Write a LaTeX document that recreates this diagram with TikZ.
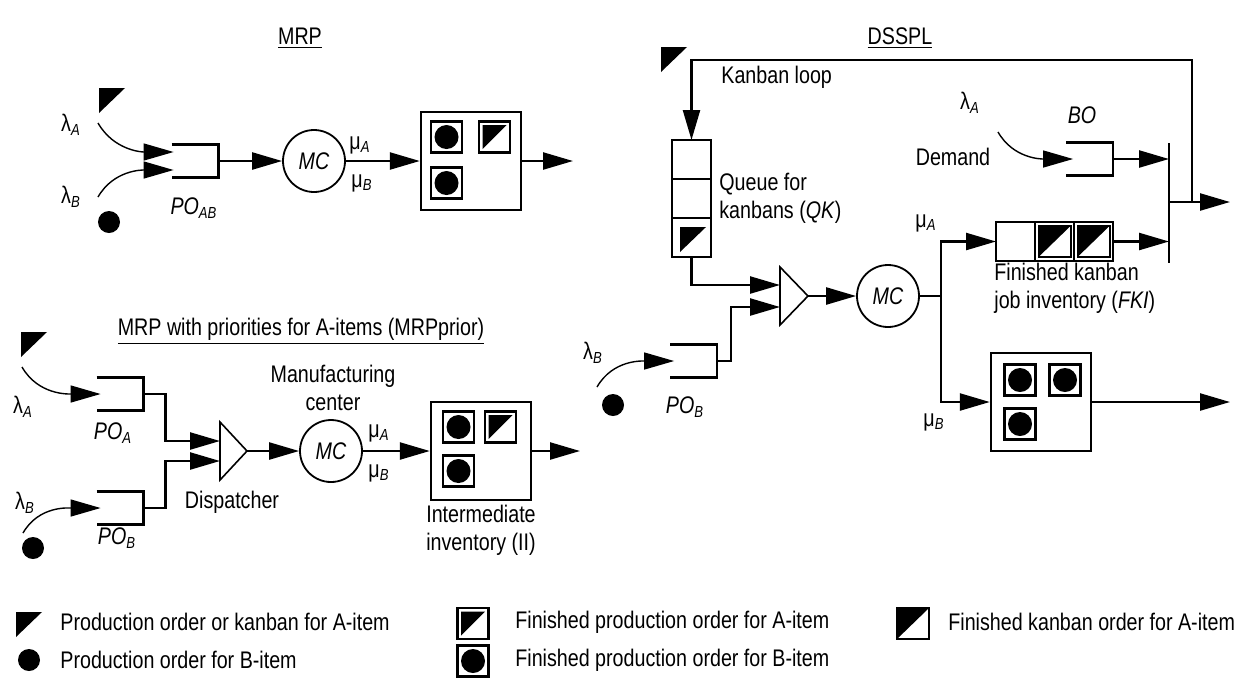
\documentclass[tikz,border=0pt]{standalone}
\usepackage{fontspec}
\setmainfont{Liberation Sans}[FakeStretch=0.82]
\usetikzlibrary{positioning}
\usetikzlibrary{arrows.meta}

% open queue: three walls, open on the left
\newcommand{\qwall}[1]{\draw[wall] (#1.north west) -- (#1.north east) -- (#1.south east) -- (#1.south west);}

\begin{document}
\begin{tikzpicture}[
    x=0.5pt, y=-0.5pt,
    inner sep=0pt,
    font=\fontsize{12}{14}\selectfont,
    wall/.style={line width=1.2pt},
    flow/.style={-{Triangle[length=15pt, width=8.5pt]}, line width=1.2pt},
    arrive/.style={-{Triangle[length=15pt, width=8.5pt]}, line width=0.7pt},
    queue/.style={minimum width=23pt, minimum height=16pt},
    machine/.style={circle, draw, line width=0.9pt, minimum size=31pt, font=\fontsize{12}{14}\selectfont\itshape},
    store/.style={draw, line width=1.2pt, minimum width=50pt, minimum height=49pt},
    cell/.style={draw, line width=1.2pt, minimum size=19.5pt, outer sep=0pt},
    atok/.pic={\fill (0,0) -- (26,0) -- (0,25) -- cycle;},
    btok/.pic={\fill (0,0) circle[radius=11];},
    fpa/.pic={\draw[line width=1.2pt] (-15.5,-15.5) rectangle (15.5,15.5);
              \fill (-12,-12) -- (12,-12) -- (-12,12) -- cycle;},
    fpb/.pic={\draw[line width=1.2pt] (-15.5,-15.5) rectangle (15.5,15.5);
              \fill (0,0) circle[radius=12];},
    fka/.pic={\draw[line width=1pt] (-16,-15.5) rectangle (16,15.5);
              \fill (-16,-15.5) -- (16,-15.5) -- (-16,15.5) -- cycle;}
]
\useasboundingbox (0,0) rectangle (1242,682);

% Titles
\node (mrptitle) at (300,38) {\underline{MRP}};
\node (dsspltitle) at (900,38) {\underline{DSSPL}};
\node (priortitle) at (301,331) {\underline{MRP with priorities for A-items (MRPprior)}};

% MRP
\pic at (99,88) {atok};
\pic at (109,222) {btok};
\coordinate (srcA1) at (98,123);
\coordinate (srcB1) at (98,197);
\node (laA1) at (71,125) {λ\textsubscript{\textit{A}}};
\node (laB1) at (71,197) {λ\textsubscript{\textit{B}}};
\node[queue] (poab) at (195,161) {};
\qwall{poab}
\node (poablbl) at (194,208) {\textit{PO}\textsubscript{\textit{AB}}};
\node[machine] (mc1) at (314,161) {MC};
\node (muA1) at (360,145) {μ\textsubscript{\textit{A}}};
\node (muB1) at (362,183) {μ\textsubscript{\textit{B}}};
\node[store] (ii1) at (471,161) {};
\pic at (446.5,137) {fpb};
\pic at (494.5,137) {fpa};
\pic at (446.5,183) {fpb};
\coordinate (out1) at (573,161);

\draw[arrive] (srcA1) to[out=-60, in=180] ([shift={(2,-9)}]poab.west);
\draw[arrive] (srcB1) to[out=60, in=180] ([shift={(2,9)}]poab.west);
\draw[flow] (poab.east) -- (mc1);
\draw[flow] (mc1) -- (ii1);
\draw[flow] (ii1) -- (out1);

% MRP with priorities
\pic at (21,332) {atok};
\pic at (33,548) {btok};
\coordinate (srcA2) at (22,367);
\coordinate (srcB2) at (23,533);
\node (laA2) at (23,407) {λ\textsubscript{\textit{A}}};
\node (laB2) at (25,503) {λ\textsubscript{\textit{B}}};
\node[queue] (poa) at (120,394) {};
\qwall{poa}
\node[queue] (pob) at (120,508) {};
\qwall{pob}
\node (poalbl) at (113,433) {\textit{PO}\textsubscript{\textit{A}}};
\node (poblbl) at (117,538) {\textit{PO}\textsubscript{\textit{B}}};
\coordinate (dsp1in1) at (220,441);
\coordinate (dsp1in2) at (220,461);
\coordinate (dsp1out) at (247,451);
\draw[line width=0.8pt] (220,422) -- (dsp1out) -- (220,480) -- cycle;
\node (dsplbl) at (232,502) {Dispatcher};
\node[machine] (mc2) at (331,451) {MC};
\node[align=center] (mclbl) at (333,388) {Manufacturing\\center};
\node (muA2) at (379,433) {μ\textsubscript{\textit{A}}};
\node (muB2) at (379,473) {μ\textsubscript{\textit{B}}};
\node[store] (ii2) at (481,451) {};
\pic at (458.5,427) {fpb};
\pic at (500.5,427) {fpa};
\pic at (458.5,471) {fpb};
\node[align=center] (iilbl) at (481,530) {Intermediate\\inventory (II)};
\coordinate (out2) at (580,451);

\draw[arrive] (srcA2) to[out=-60, in=180] ([shift={(4,0)}]poa.west);
\draw[arrive] (srcB2) to[out=60, in=180] ([shift={(4,0)}]pob.west);
\draw[flow] (poa.east) -- ++(22,0) |- (dsp1in1);
\draw[flow] (pob.east) -- ++(22,0) |- (dsp1in2);
\draw[flow] (dsp1out) -- (mc2);
\draw[flow] (mc2) -- (ii2);
\draw[flow] (ii2) -- (out2);

% DSSPL
\pic at (661,47) {atok};
\node[anchor=west] (looplbl) at (721,77) {Kanban loop};
\node[cell] (qk1) at (691.5,159.5) {};
\node[cell, below=0pt of qk1] (qk2) {};
\node[cell, below=0pt of qk2] (qk3) {};
\pic at (680,227) {atok};
\node[anchor=west, align=left] (qklbl) at (719,198) {Queue for\\kanbans (\textit{QK})};
\coordinate (kjoin) at (1192,202);
\draw[flow] (kjoin) -- ++(0,-142) -| (qk1.north);

\pic at (613,405) {btok};
\coordinate (srcB3) at (597,387);
\node (laB3) at (593,353) {λ\textsubscript{\textit{B}}};
\node[queue] (pob2) at (693.5,361) {};
\qwall{pob2}
\node (pob2lbl) at (685,407) {\textit{PO}\textsubscript{\textit{B}}};
\coordinate (dsp2in1) at (780,285);
\coordinate (dsp2in2) at (780,307);
\coordinate (dsp2out) at (808,296);
\draw[line width=0.8pt] (780,267) -- (dsp2out) -- (780,325) -- cycle;
\node[machine] (mc3) at (888,296) {MC};
\coordinate (split) at (941,296);

\draw[arrive] (srcB3) to[out=60, in=180] ([shift={(4,0)}]pob2.west);
\draw[flow] (qk3.south) |- (dsp2in1);
\draw[flow] (pob2.east) -- ++(14,0) |- (dsp2in2);
\draw[flow] (dsp2out) -- (mc3);
\draw[wall] (mc3) -- (split);

% Demand and backorders
\node (laA3) at (970,103) {λ\textsubscript{\textit{A}}};
\node (demlbl) at (953,157) {Demand};
\node (bolbl) at (1082,115) {\textit{BO}};
\coordinate (srcD) at (998,132);
\node[queue] (bo) at (1089.5,159) {};
\qwall{bo}
\draw[arrive] (srcD) to[out=-60, in=180] ([shift={(7,0)}]bo.west);

% Finished kanban job inventory
\node[cell] (fki1) at (1015.5,241.5) {};
\node[cell, right=0pt of fki1] (fki2) {};
\node[cell, right=0pt of fki2] (fki3) {};
\pic at (fki2) {fka};
\pic at (fki3) {fka};
\node[anchor=north west, align=left] (fkilbl) at (994,263) {Finished kanban\\job inventory (\textit{FKI})};
\node (muA3) at (926,223) {μ\textsubscript{\textit{A}}};
\node (muB3) at (934,422) {μ\textsubscript{\textit{B}}};

% B-item store
\node[store] (fgi) at (1041,402) {};
\pic at (1020,380) {fpb};
\pic at (1065,380) {fpb};
\pic at (1020,424) {fpb};
\coordinate (out4) at (1230,402);

\draw[flow] (split) |- (fki1.west);
\draw[flow] (split) |- (fgi.west);
\draw[flow] (fgi) -- (out4);

% Merge bar
\coordinate (bartop) at (1169,143);
\coordinate (barbot) at (1169,263);
\coordinate (out3) at (1230,202);
\draw[wall] (bartop) -- (barbot);
\draw[flow] (bo.east) -- (bo.east -| bartop);
\draw[flow] (fki3.east) -- (fki3.east -| bartop);
\draw[flow] (bartop |- kjoin) -- (out3);

% Legend
\pic at (16,612) {atok};
\node[anchor=west] (leg1) at (60,622) {Production order or kanban for A-item};
\pic at (29,660) {btok};
\node[anchor=west] (leg2) at (60,660) {Production order for B-item};
\pic at (473,623.5) {fpa};
\node[anchor=west] (leg3) at (515,622) {Finished production order for A-item};
\pic at (473,661) {fpb};
\node[anchor=west] (leg4) at (515,660) {Finished production order for B-item};
\pic at (913,623.5) {fka};
\node[anchor=west] (leg5) at (948,622) {Finished kanban order for A-item};

\end{tikzpicture}
\end{document}
